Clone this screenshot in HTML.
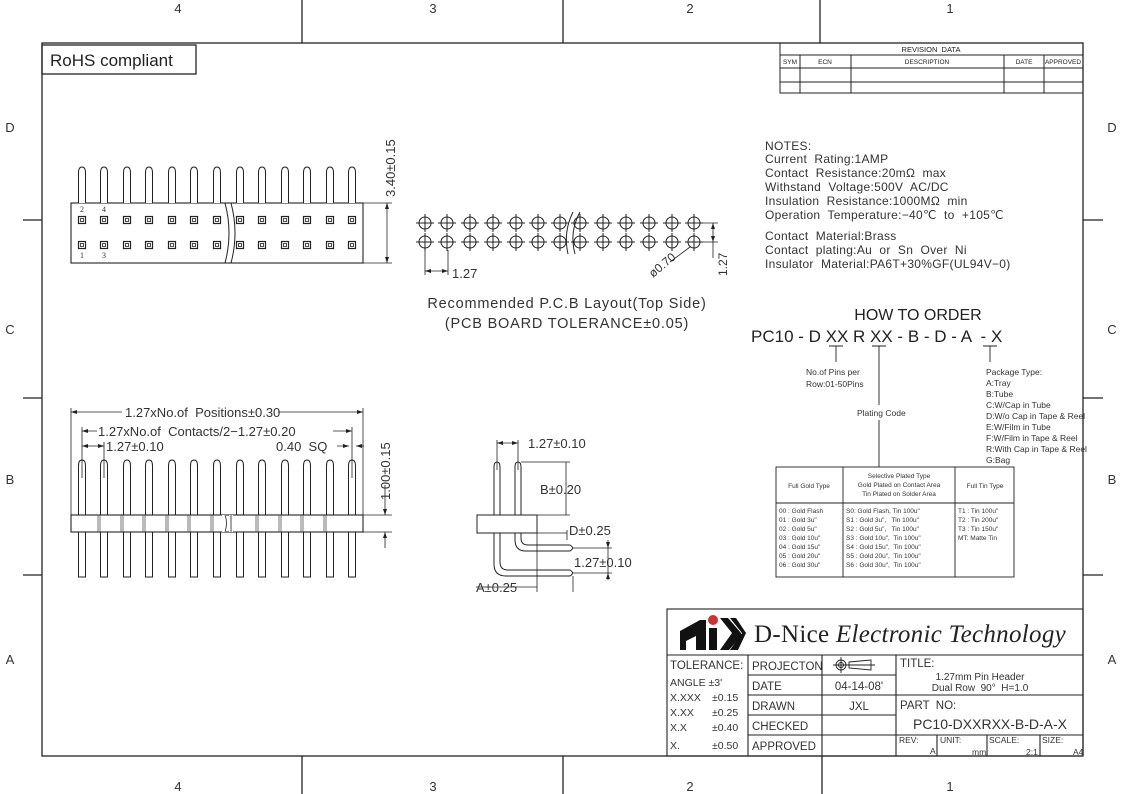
<!DOCTYPE html>
<html><head><meta charset="utf-8"><style>
html,body{margin:0;padding:0;background:#fff;}
svg{display:block;font-family:"Liberation Sans",sans-serif;}
text{white-space:pre;}
</style></head><body>
<svg width="1123" height="794" viewBox="0 0 1123 794" xmlns="http://www.w3.org/2000/svg" xml:space="preserve">
<defs>
<g id="pt"><path d="M-3.5 0 V-30 Q-3.5 -36 0 -36 Q3.5 -36 3.5 -30 V0" fill="#fff" stroke="#222" stroke-width="1"/></g>
<g id="pad"><rect x="-3.5" y="-3.5" width="7" height="7" fill="none" stroke="#222" stroke-width="1.2"/><rect x="-1.5" y="-1.5" width="3" height="3" fill="none" stroke="#222" stroke-width="0.8"/></g>
<g id="hole"><circle r="6" fill="none" stroke="#222" stroke-width="1"/><path d="M-9 0H9M0 -9V9" stroke="#222" stroke-width="1"/></g>
<g id="pf"><path d="M-3.5 55 V6 Q-3.5 0 0 0 Q3.5 0 3.5 6 V55 M-3.5 72 V117 H3.5 V72" fill="none" stroke="#222" stroke-width="1"/></g>
<g id="hs"><path d="M-6 55V72M-4 55V72" stroke="#555" stroke-width="0.8"/></g>
</defs>
<g fill="none" stroke="#222" stroke-width="1.3">
<rect x="42" y="43" width="1041" height="713"/>
<path d="M302 0V43M563 0V43M820 0V43M302 756V794M563 756V794M822 756V794"/>
<path d="M23 220H42M23 398H42M23 575H42M1083 220H1103M1083 398H1103M1083 575H1103"/>
<rect x="42" y="45" width="154" height="29"/>
</g>
<g font-size="13" fill="#333" text-anchor="middle">
<text x="178" y="13">4</text><text x="433" y="13">3</text><text x="690" y="13">2</text><text x="950" y="13">1</text>
<text x="178" y="791">4</text><text x="433" y="791">3</text><text x="690" y="791">2</text><text x="950" y="791">1</text>
<text x="10" y="132">D</text><text x="10" y="334">C</text><text x="10" y="484">B</text><text x="10" y="664">A</text>
<text x="1112" y="132">D</text><text x="1112" y="334">C</text><text x="1112" y="484">B</text><text x="1112" y="664">A</text>
</g>
<text x="50" y="66" font-size="17" fill="#222">RoHS compliant</text>

<!-- Top view connector -->
<g>
<rect x="71" y="203" width="292" height="60" fill="#fff" stroke="#222" stroke-width="1.1"/>
<path d="M225 203 Q233 233 225 263 M231 203 Q239 233 231 263" fill="#fff" stroke="#222" stroke-width="1"/>
<use href="#pt" x="82" y="203"/><use href="#pt" x="104" y="203"/><use href="#pt" x="127" y="203"/><use href="#pt" x="149" y="203"/><use href="#pt" x="172" y="203"/><use href="#pt" x="194" y="203"/><use href="#pt" x="217" y="203"/><use href="#pt" x="240" y="203"/><use href="#pt" x="262" y="203"/><use href="#pt" x="285" y="203"/><use href="#pt" x="307" y="203"/><use href="#pt" x="330" y="203"/><use href="#pt" x="352" y="203"/>
<use href="#pad" x="82" y="220"/><use href="#pad" x="104" y="220"/><use href="#pad" x="127" y="220"/><use href="#pad" x="149" y="220"/><use href="#pad" x="172" y="220"/><use href="#pad" x="194" y="220"/><use href="#pad" x="217" y="220"/><use href="#pad" x="240" y="220"/><use href="#pad" x="262" y="220"/><use href="#pad" x="285" y="220"/><use href="#pad" x="307" y="220"/><use href="#pad" x="330" y="220"/><use href="#pad" x="352" y="220"/>
<use href="#pad" x="82" y="245"/><use href="#pad" x="104" y="245"/><use href="#pad" x="127" y="245"/><use href="#pad" x="149" y="245"/><use href="#pad" x="172" y="245"/><use href="#pad" x="194" y="245"/><use href="#pad" x="217" y="245"/><use href="#pad" x="240" y="245"/><use href="#pad" x="262" y="245"/><use href="#pad" x="285" y="245"/><use href="#pad" x="307" y="245"/><use href="#pad" x="330" y="245"/><use href="#pad" x="352" y="245"/>
<g font-family="Liberation Serif" font-size="8" fill="#333"><text x="80" y="212">2</text><text x="102" y="212">4</text><text x="80" y="258">1</text><text x="102" y="258">3</text></g>
<path d="M363 203H392M363 263H392M387 203V263" stroke="#222" stroke-width="0.8"/>
<path d="M387 203l-2 6h4zM387 263l-2 -6h4z" fill="#222"/>
<text transform="translate(395,197) rotate(-90)" font-size="13" fill="#333">3.40±0.15</text>
</g>

<!-- PCB layout -->
<g>
<use href="#hole" x="425" y="223"/><use href="#hole" x="447" y="223"/><use href="#hole" x="470" y="223"/><use href="#hole" x="493" y="223"/><use href="#hole" x="516" y="223"/><use href="#hole" x="538" y="223"/><use href="#hole" x="560" y="223"/><use href="#hole" x="580" y="223"/><use href="#hole" x="603" y="223"/><use href="#hole" x="626" y="223"/><use href="#hole" x="649" y="223"/><use href="#hole" x="672" y="223"/><use href="#hole" x="694" y="223"/>
<use href="#hole" x="425" y="242"/><use href="#hole" x="447" y="242"/><use href="#hole" x="470" y="242"/><use href="#hole" x="493" y="242"/><use href="#hole" x="516" y="242"/><use href="#hole" x="538" y="242"/><use href="#hole" x="560" y="242"/><use href="#hole" x="580" y="242"/><use href="#hole" x="603" y="242"/><use href="#hole" x="626" y="242"/><use href="#hole" x="649" y="242"/><use href="#hole" x="672" y="242"/><use href="#hole" x="694" y="242"/>
<path d="M573 212 Q563 232 568 254 M580 212 Q569 232 575 254" fill="none" stroke="#222" stroke-width="1"/>
<path d="M425 250V275M448 250V275M425 271H448M694 223H718M694 242H718M713 223V242M713 242V258" fill="none" stroke="#222" stroke-width="0.8"/>
<path d="M425 271l6 -2v4zM448 271l-6 -2v4zM713 223l-2 6h4zM713 242l-2 -6h4z" fill="#222"/>
<path d="M690 247 L670 262" stroke="#222" stroke-width="0.8"/>
<text x="452" y="278" font-size="13" fill="#333">1.27</text>
<text transform="translate(653,278) rotate(-40)" font-size="12" fill="#333">ø0.70</text>
<text transform="translate(727,276) rotate(-90)" font-size="12" fill="#333">1.27</text>
<text x="567" y="308" font-size="14.5" fill="#333" text-anchor="middle" letter-spacing="0.8">Recommended P.C.B Layout(Top Side)</text>
<text x="567" y="328" font-size="14.5" fill="#333" text-anchor="middle" letter-spacing="0.8">(PCB BOARD TOLERANCE±0.05)</text>
</g>

<!-- Front view -->
<g>
<rect x="71" y="515" width="292" height="17" fill="#fff" stroke="#222" stroke-width="1.1"/>
<path d="M224 515V532M231 515V532" stroke="#fff" stroke-width="4"/>
<path d="M225 515 Q228 523 225 532M231 515V532" fill="none" stroke="#222" stroke-width="0.8"/>
<use href="#hs" x="104" y="460"/><use href="#hs" x="127" y="460"/><use href="#hs" x="149" y="460"/><use href="#hs" x="172" y="460"/><use href="#hs" x="194" y="460"/><use href="#hs" x="217" y="460"/><use href="#hs" x="262" y="460"/><use href="#hs" x="285" y="460"/><use href="#hs" x="307" y="460"/><use href="#hs" x="330" y="460"/>
<use href="#pf" x="82" y="460"/><use href="#pf" x="104" y="460"/><use href="#pf" x="127" y="460"/><use href="#pf" x="149" y="460"/><use href="#pf" x="172" y="460"/><use href="#pf" x="194" y="460"/><use href="#pf" x="217" y="460"/><use href="#pf" x="240" y="460"/><use href="#pf" x="262" y="460"/><use href="#pf" x="285" y="460"/><use href="#pf" x="307" y="460"/><use href="#pf" x="330" y="460"/><use href="#pf" x="352" y="460"/>
<g stroke="#222" stroke-width="0.8" fill="none">
<path d="M71 408V515M363 408V515M71 412H122M278 412H363"/>
<path d="M82 427V478M352 427V478M82 431H97M333 431H352"/>
<path d="M104 442V478M82 446H104M337 446H349M356 446H364"/>
<path d="M363 515H392M363 532H392M385 485V515M385 532V548"/>
</g>
<g fill="#222"><path d="M71 412l6 -2v4zM363 412l-6 -2v4zM82 431l6 -2v4zM352 431l-6 -2v4zM82 446l6 -2v4zM104 446l-6 -2v4zM349 446l-6 -2v4zM356 446l6 -2v4zM385 515l-2 -6h4zM385 532l-2 6h4z"/></g>
<g font-size="13" fill="#333">
<text x="125" y="417">1.27xNo.of  Positions±0.30</text>
<text x="98" y="436">1.27xNo.of  Contacts/2−1.27±0.20</text>
<text x="106" y="451">1.27±0.10</text>
<text x="276" y="451">0.40  SQ</text>
<text transform="translate(390,500) rotate(-90)">1.00±0.15</text>
</g>
</g>

<!-- Side view -->
<g fill="none" stroke="#222" stroke-width="1">
<path d="M494 515V467Q494 462 497 462Q500 462 500 467V515"/>
<path d="M515 515V467Q515 462 518 462Q521 462 521 467V515"/>
<rect x="477" y="515" width="60" height="18" fill="#fff"/>
<path d="M515 533V540Q515 551 526 551H570Q575 548 570 545H528Q521 545 521 538V533"/>
<path d="M494 533V564Q494 576 506 576H570Q575 573 570 570H508Q500 570 500 562V533"/>
<g stroke-width="0.8">
<path d="M497 440V470M518 440V470M497 443H518M521 462H570M537 515H570M566 462V515M537 533V592M573 576V592M476 587H537M537 533H567M567 530V540M573 548H612M573 573H612M608 548V580M608 540V548"/>
</g>
</g>
<g fill="#222"><path d="M497 443l6 -2v4zM518 443l-6 -2v4zM608 548l-2 -6h4zM608 573l-2 6h4z"/></g>
<g font-size="13" fill="#333">
<text x="528" y="448">1.27±0.10</text>
<text x="540" y="494">B±0.20</text>
<text x="569" y="535">D±0.25</text>
<text x="574" y="567">1.27±0.10</text>
<text x="476" y="592">A±0.25</text>
</g>

<!-- Revision table -->
<g fill="none" stroke="#222" stroke-width="1">
<rect x="780" y="43" width="303" height="50"/>
<path d="M780 55H1083M780 68H1083M780 82H1083M800 55V93M851 55V93M1004 55V93M1044 55V93"/>
</g>
<g font-size="6.5" fill="#222" text-anchor="middle">
<text x="931" y="52" font-size="7.5">REVISION  DATA</text>
<text x="790" y="64">SYM</text><text x="825" y="64">ECN</text><text x="927" y="64">DESCRIPTION</text><text x="1024" y="64">DATE</text><text x="1063" y="64">APPROVED</text>
</g>

<!-- Notes -->
<g font-size="12" fill="#333" letter-spacing="0.3">
<text x="765" y="150">NOTES:</text>
<text x="765" y="163">Current  Rating:1AMP</text>
<text x="765" y="177">Contact  Resistance:20mΩ  max</text>
<text x="765" y="191">Withstand  Voltage:500V  AC/DC</text>
<text x="765" y="205">Insulation  Resistance:1000MΩ  min</text>
<text x="765" y="219">Operation  Temperature:−40℃  to  +105℃</text>
<text x="765" y="240">Contact  Material:Brass</text>
<text x="765" y="254">Contact  plating:Au  or  Sn  Over  Ni</text>
<text x="765" y="268">Insulator  Material:PA6T+30%GF(UL94V−0)</text>
</g>

<!-- How to order -->
<text x="918" y="320" font-size="16" fill="#222" text-anchor="middle">HOW TO ORDER</text>
<text x="751" y="342" font-size="17" fill="#222">PC10 - D XX R XX - B - D - A  - X</text>
<g stroke="#222" stroke-width="0.9" fill="none">
<path d="M829 346H843M836 346V362M872 346H886M879 346V405M879 420V467M983 346H997M990 346V362"/>
<rect x="776" y="467" width="238" height="110"/>
<path d="M776 503H1014M843 467V577M955 467V577"/>
</g>
<g font-size="8.5" fill="#333">
<text x="806" y="375">No.of Pins per</text><text x="806" y="387">Row:01-50Pins</text>
<text x="857" y="416">Plating Code</text>
<text x="986" y="375">Package Type:</text>
<text x="986" y="386">A:Tray</text><text x="986" y="397">B:Tube</text><text x="986" y="408">C:W/Cap in Tube</text><text x="986" y="419">D:W/o Cap in Tape &amp; Reel</text><text x="986" y="430">E:W/Film in Tube</text><text x="986" y="441">F:W/Film in Tape &amp; Reel</text><text x="986" y="452">R:With Cap in Tape &amp; Reel</text><text x="986" y="463">G:Bag</text>
</g>
<g font-size="6.5" fill="#333">
<text x="809" y="488" text-anchor="middle">Full Gold Type</text>
<text x="899" y="478" text-anchor="middle">Selective Plated Type</text>
<text x="899" y="487" text-anchor="middle">Gold Plated on Contact Area</text>
<text x="899" y="496" text-anchor="middle">Tin Plated on Solder Area</text>
<text x="985" y="488" text-anchor="middle">Full Tin Type</text>
<text x="779" y="513">00 : Gold Flash</text><text x="779" y="522">01 : Gold 3u"</text><text x="779" y="531">02 : Gold 5u"</text><text x="779" y="540">03 : Gold 10u"</text><text x="779" y="549">04 : Gold 15u"</text><text x="779" y="558">05 : Gold 20u"</text><text x="779" y="567">06 : Gold 30u"</text>
<text x="846" y="513">S0: Gold Flash, Tin 100u"</text><text x="846" y="522">S1 : Gold 3u",   Tin 100u"</text><text x="846" y="531">S2 : Gold 5u",   Tin 100u"</text><text x="846" y="540">S3 : Gold 10u",  Tin 100u"</text><text x="846" y="549">S4 : Gold 15u",  Tin 100u"</text><text x="846" y="558">S5 : Gold 20u",  Tin 100u"</text><text x="846" y="567">S6 : Gold 30u",  Tin 100u"</text>
<text x="958" y="513">T1 : Tin 100u"</text><text x="958" y="522">T2 : Tin 200u"</text><text x="958" y="531">T3 : Tin 150u"</text><text x="958" y="540">MT: Matte Tin</text>
</g>

<!-- Title block -->
<g fill="none" stroke="#222" stroke-width="1.1">
<rect x="667" y="609" width="416" height="147"/>
<path d="M667 655H1083M748 675H896M748 695H1083M748 715H896M748 735H1083M748 655V756M822 655V756M896 655V756M937 735V756M987 735V756M1040 735V756"/>
</g>
<g>
<path d="M680 631 L700 620 L706 620 L706 650 L696 650 L696 636 L686 641 L686 650 L680 650 Z" fill="#111"/>
<rect x="709" y="628" width="8" height="22" fill="#111"/>
<circle cx="713" cy="620" r="5" fill="#c33"/>
<path d="M720 650 L732 633 L720 618 L728 618 L741 633 L741 636 L729 650 Z" fill="#111"/>
<path d="M730 650 L742 633 L730 618 L736 618 L746 633 L738 650 Z" fill="#111"/>
</g>
<text x="754" y="642" font-family="Liberation Serif" font-size="25" fill="#222" letter-spacing="0.3">D-Nice <tspan font-style="italic">Electronic Technology</tspan></text>
<g font-size="11.5" fill="#333">
<text x="670" y="669">TOLERANCE:</text>
<text x="670" y="686" font-size="10.5">ANGLE ±3'</text>
<text x="670" y="701" font-size="10.5">X.XXX</text><text x="712" y="701" font-size="10.5">±0.15</text>
<text x="670" y="716" font-size="10.5">X.XX</text><text x="712" y="716" font-size="10.5">±0.25</text>
<text x="670" y="731" font-size="10.5">X.X</text><text x="712" y="731" font-size="10.5">±0.40</text>
<text x="670" y="749" font-size="10.5">X.</text><text x="712" y="749" font-size="10.5">±0.50</text>
<text x="752" y="670">PROJECTON</text>
<text x="752" y="690">DATE</text>
<text x="752" y="710">DRAWN</text>
<text x="752" y="730">CHECKED</text>
<text x="752" y="750">APPROVED</text>
<text x="859" y="690" text-anchor="middle">04-14-08'</text>
<text x="859" y="710" text-anchor="middle">JXL</text>
<text x="900" y="667">TITLE:</text>
<text x="980" y="680" font-size="10" text-anchor="middle">1.27mm Pin Header</text>
<text x="980" y="691" font-size="10" text-anchor="middle">Dual Row  90°  H=1.0</text>
<text x="900" y="709">PART  NO:</text>
<text x="990" y="729" font-size="14" text-anchor="middle">PC10-DXXRXX-B-D-A-X</text>
<g font-size="8.5"><text x="899" y="743">REV:</text><text x="930" y="754">A</text><text x="940" y="743">UNIT:</text><text x="972" y="755">mm</text><text x="989" y="743">SCALE:</text><text x="1026" y="755">2:1</text><text x="1042" y="743">SIZE:</text><text x="1073" y="755">A4</text></g>
</g>
<g fill="none" stroke="#222" stroke-width="0.9">
<circle cx="841" cy="665" r="5"/><circle cx="841" cy="665" r="2.5"/><path d="M833 665H849M841 657V673M849 662L871 660V670L849 668ZM845 665H875"/>
</g>
</svg>
</body></html>
